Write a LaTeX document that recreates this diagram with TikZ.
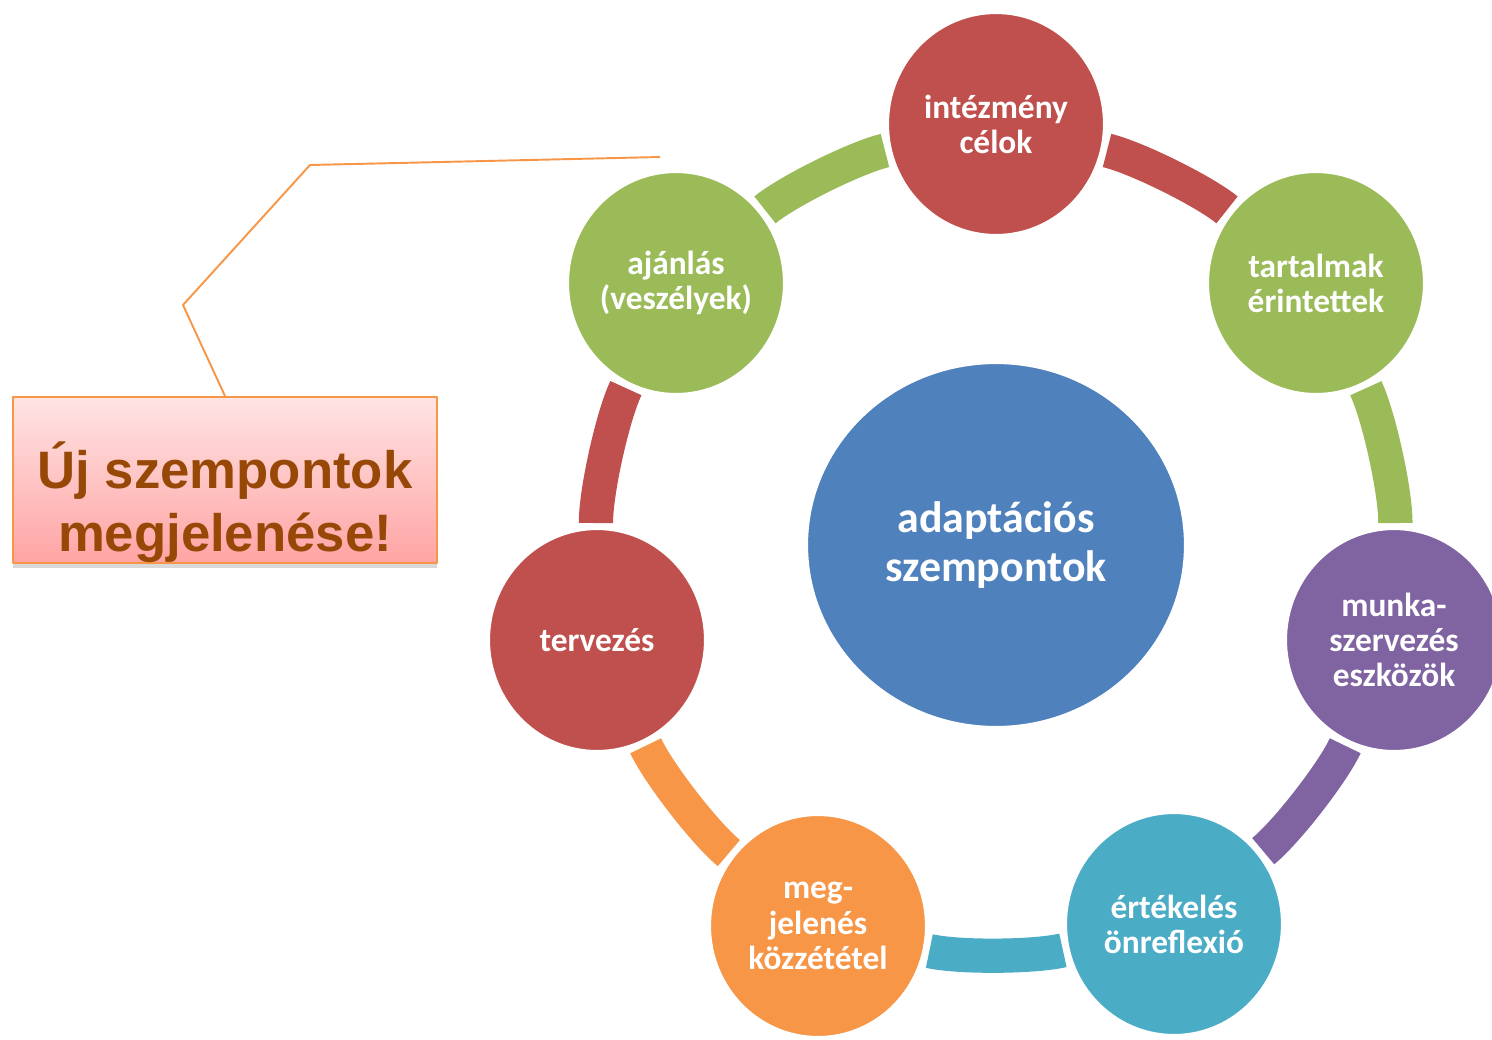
\documentclass[tikz,border=0pt]{standalone}
\usepackage{fontspec}
\setmainfont{Carlito}
\newfontfamily\calloutfont{Liberation Sans}
\usepackage{tikz}
\usetikzlibrary{shapes.geometric}
\usetikzlibrary{shadows}

\definecolor{cyclered}{HTML}{C0504D}
\definecolor{cyclegreen}{HTML}{9BBB59}
\definecolor{cyclepurple}{HTML}{8064A2}
\definecolor{cycleaqua}{HTML}{4BACC6}
\definecolor{cycleorange}{HTML}{F79646}
\definecolor{cycleblue}{HTML}{4F81BD}
\definecolor{calloutbrown}{HTML}{984806}

\begin{document}
\begin{tikzpicture}[x=0.02cm,y=-0.02cm,line join=bevel,
        topic/.style={ellipse,draw=white,line width=2.3pt,minimum width=4.36cm,minimum height=4.48cm,inner sep=0pt,align=center,text=white,font=\bfseries\fontsize{19}{20}\selectfont},
        ringarc/.style={line width=19.5pt,bend left=13,looseness=0.6,shorten <=0.06cm,shorten >=0.06cm}]
        \useasboundingbox (0,0) rectangle (1492,1039);
        %
        \node (center) at (996,545) [ellipse,draw=white,line width=2.3pt,fill=cycleblue,minimum width=7.6cm,minimum height=7.32cm,inner sep=0pt,align=center,text=white,font=\bfseries\fontsize{25}{28}\selectfont] {adaptációs\\szempontok};
        %
        \node (celok) at (996,124) [topic,fill=cyclered] {intézmény\\célok};
        \node (tartalmak) at (1316,283) [topic,fill=cyclegreen] {tartalmak\\érintettek};
        \node (munka) at (1394,640) [topic,fill=cyclepurple] {munka-\\szervezés\\eszközök};
        \node (ertekeles) at (1174,924) [topic,fill=cycleaqua] {értékelés\\önreflexió};
        \node (megjelenes) at (818,926) [topic,fill=cycleorange] {meg-\\jelenés\\közzététel};
        \node (tervezes) at (597,640) [topic,fill=cyclered] {tervezés};
        \node (ajanlas) at (676,283) [topic,fill=cyclegreen] {ajánlás\\(veszélyek)};
        %
        \draw [ringarc,color=cyclered] (celok) to (tartalmak);
        \draw [ringarc,color=cyclegreen] (tartalmak) to (munka);
        \draw [ringarc,color=cyclepurple] (munka) to (ertekeles);
        \draw [ringarc,color=cycleaqua] (ertekeles) to (megjelenes);
        \draw [ringarc,color=cycleorange] (megjelenes) to (tervezes);
        \draw [ringarc,color=cyclered] (tervezes) to (ajanlas);
        \draw [ringarc,color=cyclegreen] (ajanlas) to (celok);
        %
        \node[align=center] (callout) at (225,480) [rectangle,draw=cycleorange,line width=1.1pt,top color={rgb,255:red,255;green,228;blue,228},bottom color={rgb,255:red,255;green,164;blue,164},minimum width=8.48cm,minimum height=3.32cm,inner sep=0pt,drop shadow={shadow xshift=0pt,shadow yshift=-3pt,opacity=0.3},text=calloutbrown,font=\calloutfont\bfseries\fontsize{30}{36}\selectfont] {\rule{0pt}{52pt}Új szempontok\\megjelenése!};
        \coordinate (bendlow) at (183,305);
        \coordinate (bendhigh) at (310,165);
        \coordinate (tip) at (660,157);
        \draw [color=cycleorange,line width=1.1pt] (callout.north) -- (bendlow) -- (bendhigh) -- (tip);
        %
    \end{tikzpicture}
\end{document}
